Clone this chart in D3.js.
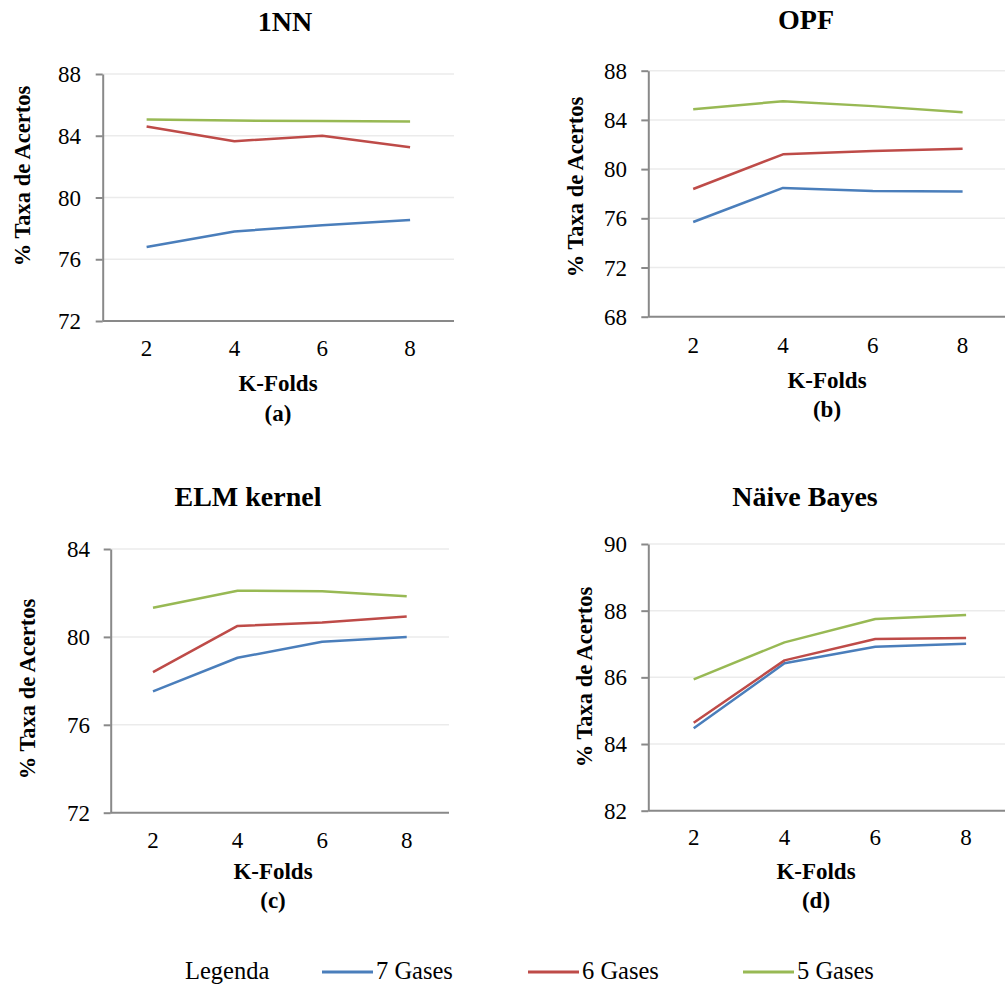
<!DOCTYPE html>
<html>
<head>
<meta charset="utf-8">
<script src="https://cdn.jsdelivr.net/npm/d3@7"></script>
<style>
  html, body { margin: 0; padding: 0; background: #fff; }
  svg text { font-family: "Liberation Serif", "DejaVu Serif", serif; }
</style>
</head>
<body>
<svg id="chart" width="1005" height="985"></svg>
<script>
// K-fold values on the x axis
const kFolds = ["2", "4", "6", "8"];

// Series names and colours
const seriesNames = ["7 Gases", "6 Gases", "5 Gases"];
const seriesColors = ["#4a7ebb", "#be4b48", "#98b954"];

// 1NN accuracy (%)
const nn7 = [76.8, 77.8, 78.2, 78.55];
const nn6 = [84.6, 83.65, 84.0, 83.25];
const nn5 = [85.05, 84.98, 84.95, 84.92];

// OPF accuracy (%)
const opf7 = [75.7, 78.47, 78.22, 78.17];
const opf6 = [78.38, 81.2, 81.47, 81.65];
const opf5 = [84.86, 85.52, 85.12, 84.62];

// ELM kernel accuracy (%)
const elm7 = [77.52, 79.05, 79.78, 79.99];
const elm6 = [78.4, 80.5, 80.65, 80.93];
const elm5 = [81.33, 82.1, 82.08, 81.85];

// Naive Bayes accuracy (%)
const nb7 = [84.47, 86.42, 86.92, 87.01];
const nb6 = [84.64, 86.51, 87.15, 87.18];
const nb5 = [85.94, 87.05, 87.75, 87.87];

// Y tick values per panel
const yTicksA = [72, 76, 80, 84, 88];
const yTicksB = [68, 72, 76, 80, 84, 88];
const yTicksC = [72, 76, 80, 84];
const yTicksD = [82, 84, 86, 88, 90];

const panelTitles = ["1NN", "OPF", "ELM kernel", "Näive Bayes"];
const panelLetters = ["(a)", "(b)", "(c)", "(d)"];
const xTitle = "K-Folds";
const yTitle = "% Taxa de Acertos";
const legendTitle = "Legenda";

const FONT = "'Liberation Serif', 'DejaVu Serif', serif";

const panels = [
  { title: panelTitles[0], letter: panelLetters[0], series: [nn7, nn6, nn5], ticks: yTicksA,
    left: 102.7, right: 454, top: 74, bottom: 321,
    titleX: 285, titleY: 31, tickLabelX: 81, xTickY: 356,
    xTitleX: 278, xTitleY: 391, letterY: 421, yTitleX: 29.5, yTitleY: 176 },
  { title: panelTitles[1], letter: panelLetters[1], series: [opf7, opf6, opf5], ticks: yTicksB,
    left: 648.3, right: 1007.5, top: 70.7, bottom: 316.7,
    titleX: 806, titleY: 29, tickLabelX: 627, xTickY: 352.7,
    xTitleX: 827, xTitleY: 388, letterY: 417, yTitleX: 583, yTitleY: 187 },
  { title: panelTitles[2], letter: panelLetters[2], series: [elm7, elm6, elm5], ticks: yTicksC,
    left: 110.7, right: 449, top: 549, bottom: 812.7,
    titleX: 248, titleY: 506, tickLabelX: 90, xTickY: 848,
    xTitleX: 273, xTitleY: 879, letterY: 908, yTitleX: 35, yTitleY: 689 },
  { title: panelTitles[3], letter: panelLetters[3], series: [nb7, nb6, nb5], ticks: yTicksD,
    left: 648.3, right: 1011.5, top: 544, bottom: 810.7,
    titleX: 805, titleY: 506, tickLabelX: 627, xTickY: 845,
    xTitleX: 816, xTitleY: 879, letterY: 908, yTitleX: 591.5, yTitleY: 677 }
];

const svg = d3.select("#chart");
const axisColor = "#898989";
const gridColor = "#ebebeb";

function label(sel, size, bold) {
  return sel.attr("font-family", FONT)
    .attr("font-size", size)
    .attr("font-weight", bold ? "bold" : "normal")
    .attr("fill", "#000");
}

panels.forEach(p => {
  const g = svg.append("g");
  const x = d3.scalePoint().domain(kFolds).range([p.left, p.right]).padding(0.5);
  const y = d3.scaleLinear().domain(d3.extent(p.ticks)).range([p.bottom, p.top]);

  // horizontal gridlines
  g.append("g")
    .selectAll("line")
    .data(p.ticks.slice(1))
    .join("line")
    .attr("x1", p.left).attr("x2", p.right)
    .attr("y1", d => y(d)).attr("y2", d => y(d))
    .attr("stroke", gridColor).attr("stroke-width", 1.5);

  // y axis with outward ticks
  const yAxis = g.append("g")
    .attr("transform", `translate(${p.left},0)`)
    .call(d3.axisLeft(y).tickValues(p.ticks).tickSize(7).tickSizeOuter(0).tickFormat(d3.format("d")));
  yAxis.select(".domain").attr("stroke", axisColor).attr("stroke-width", 2);
  yAxis.selectAll(".tick line").attr("stroke", axisColor).attr("stroke-width", 2);
  yAxis.selectAll(".tick text").remove();

  // y tick labels
  g.append("g")
    .selectAll("text")
    .data(p.ticks)
    .join("text")
    .attr("x", p.tickLabelX)
    .attr("y", d => y(d))
    .attr("dy", "0.35em")
    .attr("text-anchor", "end")
    .call(label, 23, false)
    .text(d => d);

  // x axis line
  const xAxis = g.append("g")
    .attr("transform", `translate(0,${p.bottom})`)
    .call(d3.axisBottom(x).tickSize(0).tickSizeOuter(0));
  xAxis.select(".domain").attr("d", `M${p.left},0H${p.right}`).attr("stroke", axisColor).attr("stroke-width", 2);
  xAxis.selectAll(".tick text").remove();

  // x tick labels
  g.append("g")
    .selectAll("text")
    .data(kFolds)
    .join("text")
    .attr("x", d => x(d))
    .attr("y", p.xTickY)
    .attr("text-anchor", "middle")
    .call(label, 23, false)
    .text(d => d);

  // series lines
  const line = d3.line().x((d, i) => x(kFolds[i])).y(d => y(d));
  p.series.forEach((vals, si) => {
    g.append("path")
      .datum(vals)
      .attr("d", line)
      .attr("fill", "none")
      .attr("stroke", seriesColors[si])
      .attr("stroke-width", 2.5)
      .attr("stroke-linejoin", "round");
  });

  // titles
  g.append("text")
    .attr("x", p.titleX).attr("y", p.titleY)
    .attr("text-anchor", "middle")
    .call(label, 28, true)
    .text(p.title);

  g.append("text")
    .attr("x", p.xTitleX).attr("y", p.xTitleY)
    .attr("text-anchor", "middle")
    .call(label, 23, true)
    .text(xTitle);

  g.append("text")
    .attr("x", p.xTitleX).attr("y", p.letterY)
    .attr("text-anchor", "middle")
    .call(label, 23, true)
    .text(p.letter);

  g.append("text")
    .attr("transform", `translate(${p.yTitleX},${p.yTitleY}) rotate(-90)`)
    .attr("text-anchor", "middle")
    .call(label, 22.5, true)
    .text(yTitle);
});

// legend
const legend = svg.append("g");
legend.append("text")
  .attr("x", 185).attr("y", 979)
  .call(label, 24.5, false)
  .text(legendTitle);

const legendX = [322, 528, 743];
seriesNames.forEach((name, i) => {
  legend.append("line")
    .attr("x1", legendX[i]).attr("x2", legendX[i] + 51)
    .attr("y1", 972).attr("y2", 972)
    .attr("stroke", seriesColors[i]).attr("stroke-width", 3);
  legend.append("text")
    .attr("x", legendX[i] + 54).attr("y", 979)
    .call(label, 24.5, false)
    .text(name);
});
</script>
</body>
</html>
